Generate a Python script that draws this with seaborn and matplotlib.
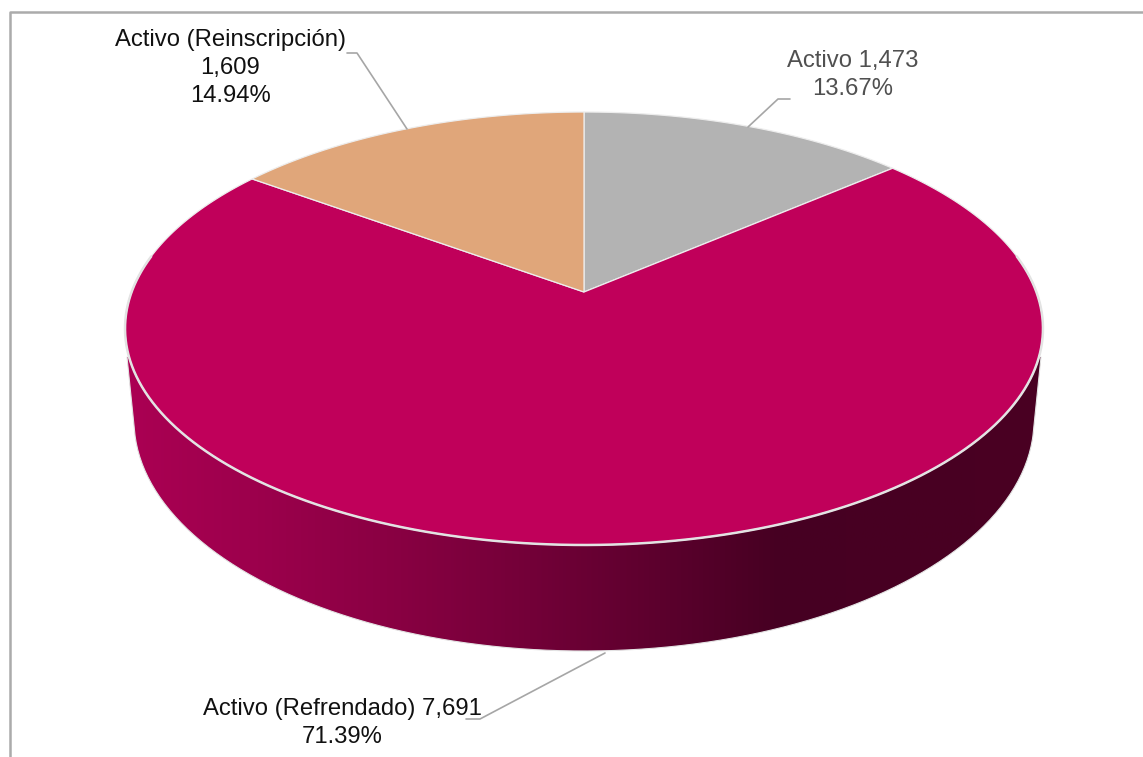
import numpy as np
import matplotlib
matplotlib.use("Agg")
import matplotlib.pyplot as plt
import matplotlib.transforms as mtransforms
from matplotlib.patches import PathPatch
from matplotlib.path import Path
import seaborn as sns

labels = ["Activo", "Activo (Refrendado)", "Activo (Reinscripción)"]
valores = [1473, 7691, 1609]
porcentajes = ["13.67%", "71.39%", "14.94%"]
colores = ["#B3B3B3", "#C0005A", "#E0A67A"]
colores_lado = ["#AB0053", "#9C004C", "#8A0043", "#750039", "#5E002E", "#460022", "#480022", "#4A0022"]

sns.set_theme(style="white")
plt.rcParams["font.family"] = ["Liberation Sans", "DejaVu Sans"]


# the pie is tilted, so the circle goes through a perspective map to pixels
class Perspectiva(mtransforms.Transform):
    input_dims = 2
    output_dims = 2

    def transform_non_affine(self, xy):
        xy = np.asarray(xy, dtype=float)
        w = 1 + 0.1686 * xy[:, 1]
        return np.column_stack([584 + 452.4 * xy[:, 0] / w, (292 - 161.1 * xy[:, 1]) / w])

    def transform_path_non_affine(self, path):
        if path.codes is None:
            return Path(self.transform_non_affine(path.vertices))
        # flatten the curves first, scaled up so they get enough segments
        grande = path.transformed(mtransforms.Affine2D().scale(2000))
        polys = grande.to_polygons(closed_only=True)
        return Path(self.transform_non_affine(polys[0] / 2000), closed=True)


fig, ax = plt.subplots(figsize=(11.43, 7.57), dpi=100)
fig.subplots_adjust(0, 0, 1, 1)

wedges, _ = ax.pie(valores, colors=colores, startangle=90, counterclock=False,
                   wedgeprops={"edgecolor": "#EDEDED", "linewidth": 0.9})
ax.set_aspect("auto")
persp = Perspectiva() + ax.transData
for w in wedges:
    w.set_transform(persp)
    w.set_zorder(3)

# side of the pie, a horizontal gradient clipped to the outline
t = np.radians(np.linspace(176, 4, 200))
xs = np.r_[127, 584 + 450 * np.cos(t), 1041]
ys = np.r_[357, 420 + 231 * np.sin(t), 357]
lado = PathPatch(Path(np.column_stack([xs, ys])), facecolor="none", edgecolor="none")
ax.add_patch(lado)
cmap = sns.blend_palette(colores_lado, n_colors=256, as_cmap=True)
img = ax.imshow(np.linspace(0, 1, 512)[None, :], cmap=cmap, aspect="auto",
                extent=(125, 1043, 652, 350), zorder=2)
img.set_clip_path(lado)
ax.plot(xs, ys, color="#E3E3E3", lw=0.8, zorder=2.5)

# light rim on the front of the top face
ang = np.linspace(np.radians(170), np.radians(370), 300)
ax.plot(np.cos(ang), np.sin(ang), color="#E3E3E3", lw=1.8, zorder=4,
        transform=persp, solid_capstyle="round")

# leader lines
lineas = [([790, 778, 748], [99, 99, 127]),
          ([466, 480, 605], [719, 719, 653]),
          ([347, 357, 407], [53, 53, 129])]
for lx, ly in lineas:
    ax.plot(lx, ly, color="#A6A6A6", lw=1.2, zorder=5)

# chart border, top and left only, the rest is cut off by the picture
ax.plot([10, 10, 1143], [757, 11.5, 11.5], color="#ABABAB", lw=1.8, zorder=5)

ax.text(853, 75, f"{labels[0]} {valores[0]:,}\n{porcentajes[0]}", ha="center", va="center",
        fontsize=17.2, color="#505050", linespacing=1.34, zorder=6)
ax.text(342, 723, f"{labels[1]} {valores[1]:,}\n{porcentajes[1]}", ha="center", va="center",
        fontsize=17.2, color="#111111", linespacing=1.34, zorder=6)
ax.text(230.5, 68, f"{labels[2]}\n{valores[2]:,}\n{porcentajes[2]}", ha="center", va="center",
        fontsize=17.2, color="#111111", linespacing=1.34, zorder=6)

ax.set_xlim(0, 1143)
ax.set_ylim(757, 0)
ax.axis("off")
fig.savefig("out.png", dpi=100, facecolor="white")
